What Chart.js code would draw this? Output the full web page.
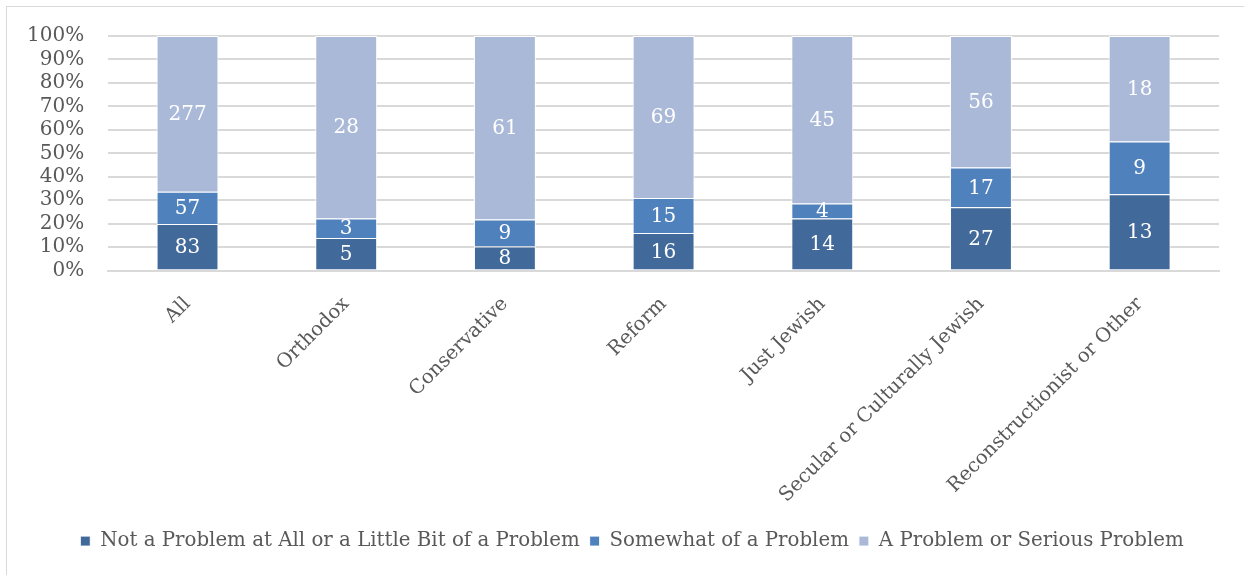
<!DOCTYPE html>
<html>
<head>
<meta charset="utf-8">
<script src="https://cdn.jsdelivr.net/npm/chart.js@4/dist/chart.umd.min.js"></script>
<style>
  html, body { margin: 0; padding: 0; background: #fff; }
  #wrap { position: relative; width: 1244px; height: 575px; }
  #frame { position: absolute; left: 6px; top: 6px; width: 1250px; height: 600px; border: 1px solid #d9d9d9; box-sizing: border-box; }
  canvas { position: absolute; left: 0; top: 0; }
</style>
</head>
<body>
<div id="wrap">
  <div id="frame"></div>
  <canvas id="chart" width="1244" height="575"></canvas>
</div>
<script>
const categories = ['All', 'Orthodox', 'Conservative', 'Reform', 'Just Jewish', 'Secular or Culturally Jewish', 'Reconstructionist or Other'];
const seriesNames = ['Not a Problem at All or a Little Bit of a Problem', 'Somewhat of a Problem', 'A Problem or Serious Problem'];
const notProblem = [83, 5, 8, 16, 14, 27, 13];
const somewhat = [57, 3, 9, 15, 4, 17, 9];
const serious = [277, 28, 61, 69, 45, 56, 18];
const colors = ['#41699a', '#4f81bd', '#aab9d7'];

const FONT = '"DejaVu Serif", "Liberation Serif", serif';
const counts = [notProblem, somewhat, serious];
const totals = categories.map((_, i) => notProblem[i] + somewhat[i] + serious[i]);

// 100% stacked: each segment is its share of the category total
const datasets = counts.map((arr, k) => ({
  label: seriesNames[k],
  data: arr.map((v, i) => v / totals[i] * 100),
  counts: arr,
  backgroundColor: colors[k],
  borderColor: '#ffffff',
  borderWidth: 1,
  categoryPercentage: 1,
  barPercentage: 0.39
}));

// draws the raw counts in the middle of each segment
const countLabels = {
  id: 'countLabels',
  afterDatasetsDraw(chart) {
    const ctx = chart.ctx;
    ctx.save();
    ctx.fillStyle = '#ffffff';
    ctx.font = '20px ' + FONT;
    ctx.textAlign = 'center';
    ctx.textBaseline = 'middle';
    chart.data.datasets.forEach((ds, k) => {
      chart.getDatasetMeta(k).data.forEach((el, i) => {
        ctx.fillText(String(ds.counts[i]), el.x, (el.y + el.base) / 2 + 1);
      });
    });
    ctx.restore();
  }
};

// the legend sits a little right of the canvas centre in the original
const legendShift = {
  id: 'legendShift',
  afterLayout(chart) {
    chart.legend.left += 21;
    chart.legend.right += 21;
  }
};

new Chart(document.getElementById('chart'), {
  type: 'bar',
  data: { labels: categories, datasets: datasets },
  options: {
    responsive: false,
    animation: false,
    layout: { padding: { left: 3, right: 25, top: 23, bottom: 14 } },
    scales: {
      x: {
        stacked: true,
        grid: { display: false },
        border: { color: '#d9d9d9', width: 2 },
        ticks: {
          color: '#595959',
          font: { family: FONT, size: 19.6 },
          minRotation: 45,
          maxRotation: 45,
          padding: 14
        }
      },
      y: {
        stacked: true,
        min: 0,
        max: 100,
        border: { display: false },
        grid: { color: '#d9d9d9', lineWidth: 2, drawTicks: false },
        ticks: {
          stepSize: 10,
          autoSkip: false,
          color: '#595959',
          font: { family: FONT, size: 20 },
          padding: 24,
          callback: (v) => v + '%'
        }
      }
    },
    plugins: {
      legend: {
        position: 'bottom',
        labels: {
          color: '#595959',
          font: { family: FONT, size: 19.8 },
          boxWidth: 10,
          boxHeight: 10,
          padding: 10
        }
      },
      tooltip: { enabled: false }
    }
  },
  plugins: [countLabels, legendShift]
});
</script>
</body>
</html>
